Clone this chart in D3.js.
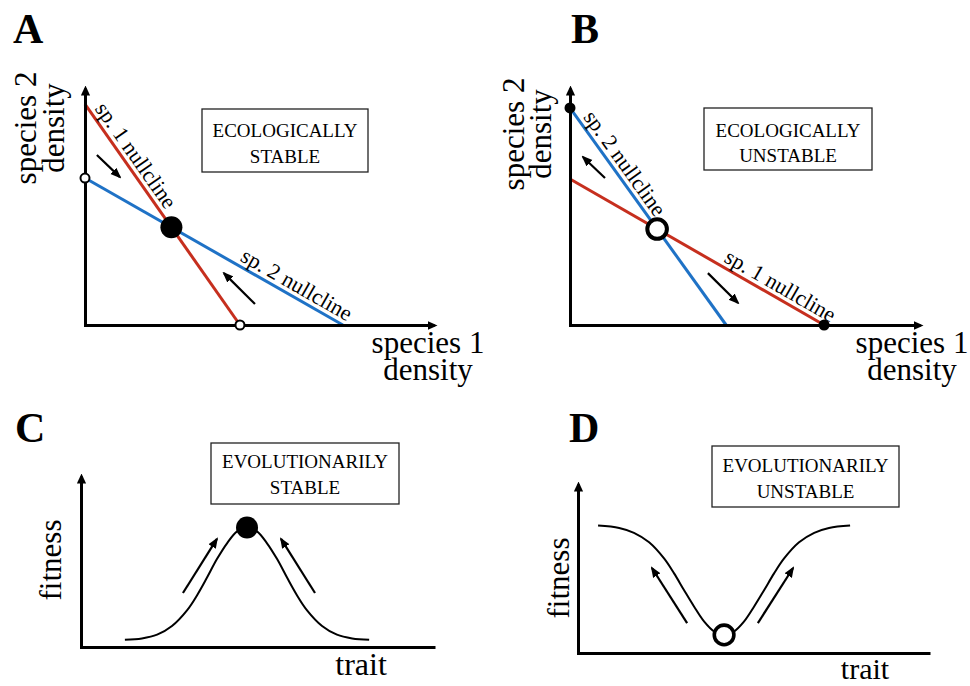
<!DOCTYPE html>
<html><head><meta charset="utf-8">
<script src="https://cdn.jsdelivr.net/npm/d3@7"></script>
<style>
body{margin:0;background:#fff;}
text{font-family:"Liberation Serif","Times New Roman",serif;fill:#000;}
</style>
</head><body>
<svg id="chart" width="970" height="686"></svg>
<script>
// ---------------- DATA ----------------
const panelLetters = ["A", "B", "C", "D"];
const boxA = ["ECOLOGICALLY", "STABLE"];
const boxB = ["ECOLOGICALLY", "UNSTABLE"];
const boxC = ["EVOLUTIONARILY", "STABLE"];
const boxD = ["EVOLUTIONARILY", "UNSTABLE"];
const densityXLabel = ["species 1", "density"];
const densityYLabel = ["species 2", "density"];
const fitnessLabel = "fitness";
const traitLabel = "trait";
const sp1Label = "sp. 1 nullcline";
const sp2Label = "sp. 2 nullcline";

// Panel A: nullclines as [x, y] endpoints (intercepts)
const sp1NullclineA = [[0, 9.32], [4.44, 0]];
const sp2NullclineA = [[0, 6.2], [7.39, 0]];
const arrowsA = [[[0.34, 7.17], [1.0, 6.24]], [[4.87, 0.89], [3.98, 2.19]]];

// Panel B
const sp2NullclineB = [[0, 9.16], [4.46, 0]];
const sp1NullclineB = [[0, 6.16], [7.26, 0]];
const arrowsB = [[[1.0, 6.2], [0.37, 7.09]], [[3.94, 2.19], [4.8, 0.93]]];

// Panel C: fitness landscape (peak)
const traitC   = [1.24, 1.72, 2.15, 2.57, 3.00, 3.28, 3.56, 3.84, 4.13, 4.41, 4.69, 4.97, 5.25, 5.54, 5.82, 6.10, 6.38, 6.81, 7.23, 7.66, 8.14];
const fitnessC = [0.42, 0.50, 0.72, 1.23, 2.16, 3.03, 4.06, 5.14, 6.08, 6.76, 6.99, 6.76, 6.08, 5.14, 4.06, 3.03, 2.16, 1.23, 0.72, 0.50, 0.42];
const peakC = [4.69, 6.99];
const arrowsC = [[[2.88, 3.16], [3.84, 6.32]], [[6.61, 3.16], [5.65, 6.32]]];

// Panel D: fitness landscape (valley)
const traitD   = [0.57, 1.17, 1.59, 2.02, 2.45, 2.73, 3.01, 3.30, 3.58, 3.87, 4.15, 4.43, 4.72, 5.00, 5.29, 5.57, 5.85, 6.28, 6.71, 7.13, 7.73];
const fitnessD = [7.54, 7.40, 7.11, 6.55, 5.58, 4.71, 3.73, 2.74, 1.87, 1.27, 1.07, 1.27, 1.87, 2.74, 3.73, 4.71, 5.58, 6.55, 7.11, 7.40, 7.54];
const valleyD = [4.15, 1.07];
const arrowsD = [[[3.10, 1.77], [2.10, 5.03]], [[5.11, 1.77], [6.11, 5.03]]];

// ---------------- DRAWING ----------------
const RED = "#c62f1e", BLUE = "#1f72c6";
const svg = d3.select("#chart");
const defs = svg.append("defs");
defs.append("marker").attr("id", "axisHead")
  .attr("viewBox", "0 -5 10 10").attr("refX", 7).attr("refY", 0)
  .attr("markerWidth", 10).attr("markerHeight", 10)
  .attr("markerUnits", "userSpaceOnUse").attr("orient", "auto")
  .append("path").attr("d", "M0,-4.6L10,0L0,4.6Z").attr("fill", "#000");
defs.append("marker").attr("id", "smallHead")
  .attr("viewBox", "0 -5 11 10").attr("refX", 9).attr("refY", 0)
  .attr("markerWidth", 11).attr("markerHeight", 10)
  .attr("markerUnits", "userSpaceOnUse").attr("orient", "auto")
  .append("path").attr("d", "M0,-4.3L11,0L0,4.3Z").attr("fill", "#000");

function axes(x, y, xArrow) {
  const [x0] = x.range(), [y0] = y.range();
  const gx = svg.append("g").attr("transform", `translate(0,${y0})`)
    .call(d3.axisBottom(x).tickValues([]).tickSizeOuter(0));
  gx.select(".domain").attr("stroke", "#000").attr("stroke-width", 3)
    .attr("marker-end", xArrow ? "url(#axisHead)" : null);
  const gy = svg.append("g").attr("transform", `translate(${x0},0)`)
    .call(d3.axisLeft(y).tickValues([]).tickSizeOuter(0));
  gy.select(".domain").attr("stroke", "#000").attr("stroke-width", 3)
    .attr("marker-end", "url(#axisHead)");
  svg.append("rect").attr("x", x0 - 1).attr("y", y0 - 1).attr("width", 3).attr("height", 3).attr("fill", "#000");
}

function letter(t, x, y) {
  svg.append("text").attr("x", x).attr("y", y).attr("font-size", 42)
    .attr("font-weight", "bold").text(t);
}

function box(lines, x0, y0, x1, y1, b1, b2) {
  svg.append("rect").attr("x", x0).attr("y", y0).attr("width", x1 - x0).attr("height", y1 - y0)
    .attr("fill", "#fff").attr("stroke", "#222").attr("stroke-width", 1.3);
  const cx = (x0 + x1) / 2;
  const t = svg.append("text").attr("text-anchor", "middle").attr("font-size", 19);
  [b1, b2].forEach((b, i) => t.append("tspan").attr("x", cx).attr("y", b).text(lines[i]));
}

function arrows(list, x, y) {
  list.forEach(a => svg.append("line")
    .attr("x1", x(a[0][0])).attr("y1", y(a[0][1]))
    .attr("x2", x(a[1][0])).attr("y2", y(a[1][1]))
    .attr("stroke", "#000").attr("stroke-width", 2.2)
    .attr("marker-end", "url(#smallHead)"));
}

function segment(seg, x, y, color) {
  svg.append("path").datum(seg)
    .attr("d", d3.line().x(d => x(d[0])).y(d => y(d[1])))
    .attr("stroke", color).attr("stroke-width", 3).attr("fill", "none");
}

function lineLabel(seg, x, y, t, text, d) {
  const p0 = [x(seg[0][0]), y(seg[0][1])], p1 = [x(seg[1][0]), y(seg[1][1])];
  const ang = Math.atan2(p1[1] - p0[1], p1[0] - p0[0]);
  const f = (t - seg[0][0]) / (seg[1][0] - seg[0][0]);
  const px = p0[0] + f * (p1[0] - p0[0]), py = p0[1] + f * (p1[1] - p0[1]);
  const nx = Math.sin(ang), ny = -Math.cos(ang);
  svg.append("text")
    .attr("transform", `translate(${px + nx * d},${py + ny * d}) rotate(${ang * 180 / Math.PI})`)
    .attr("font-size", 22).text(text);
}

function intersect(a, b) {
  // lines through intercepts: y = ya*(1 - x/xa)
  const ya = a[0][1], xa = a[1][0], yb = b[0][1], xb = b[1][0];
  const xi = (ya - yb) / (ya / xa - yb / xb);
  return [xi, ya * (1 - xi / xa)];
}

function dot(p, x, y, r, filled, sw) {
  svg.append("circle").attr("cx", x(p[0])).attr("cy", y(p[1])).attr("r", r)
    .attr("fill", filled ? "#000" : "#fff")
    .attr("stroke", "#000").attr("stroke-width", sw);
}

function yLabel(lines, bx1, gap, cy, size) {
  const t = svg.append("text").attr("transform", `translate(${bx1},${cy}) rotate(-90)`)
    .attr("text-anchor", "middle").attr("font-size", size);
  lines.forEach((l, i) => t.append("tspan").attr("x", 0).attr("y", i * gap).text(l));
}
function xLabel(lines, cx, b1, gap) {
  const t = svg.append("text").attr("text-anchor", "middle").attr("font-size", 31);
  lines.forEach((l, i) => t.append("tspan").attr("x", cx).attr("y", b1 + i * gap).text(l));
}

// ----- Panel A -----
{
  const x = d3.scaleLinear().domain([0, 10]).range([85, 434]);
  const y = d3.scaleLinear().domain([0, 10]).range([325, 88]);
  letter(panelLetters[0], 13, 43);
  segment(sp1NullclineA, x, y, RED);
  segment(sp2NullclineA, x, y, BLUE);
  axes(x, y, true);
  lineLabel(sp1NullclineA, x, y, 0.15, sp1Label, 5);
  lineLabel(sp2NullclineA, x, y, 4.35, sp2Label, 5);
  arrows(arrowsA, x, y);
  dot(intersect(sp1NullclineA, sp2NullclineA), x, y, 11, true, 0);
  dot(sp2NullclineA[0], x, y, 4.5, false, 2);
  dot(sp1NullclineA[1], x, y, 4.5, false, 2);
  box(boxA, 202, 109, 368, 172, 137, 163);
  yLabel(densityYLabel, 36, 28, 128, 31);
  xLabel(densityXLabel, 428, 353, 27);
}
// ----- Panel B -----
{
  const x = d3.scaleLinear().domain([0, 10]).range([570, 920]);
  const y = d3.scaleLinear().domain([0, 10]).range([325, 88]);
  letter(panelLetters[1], 571, 43);
  segment(sp2NullclineB, x, y, BLUE);
  segment(sp1NullclineB, x, y, RED);
  axes(x, y, true);
  lineLabel(sp2NullclineB, x, y, 0.25, sp2Label, 5);
  lineLabel(sp1NullclineB, x, y, 4.3, sp1Label, 5);
  arrows(arrowsB, x, y);
  dot(intersect(sp2NullclineB, sp1NullclineB), x, y, 9.8, false, 4);
  dot(sp2NullclineB[0], x, y, 5.5, true, 0);
  dot(sp1NullclineB[1], x, y, 5.5, true, 0);
  box(boxB, 704, 108, 872, 170, 137, 162);
  yLabel(densityYLabel, 524, 27, 134, 31);
  xLabel(densityXLabel, 912, 353, 27);
}
// ----- Panel C -----
{
  const x = d3.scaleLinear().domain([0, 10]).range([81, 435]);
  const y = d3.scaleLinear().domain([0, 10]).range([647, 476]);
  letter(panelLetters[2], 15, 442);
  axes(x, y, false);
  svg.append("path").datum(d3.zip(traitC, fitnessC))
    .attr("d", d3.line().x(d => x(d[0])).y(d => y(d[1])).curve(d3.curveCatmullRom))
    .attr("fill", "none").attr("stroke", "#000").attr("stroke-width", 2);
  arrows(arrowsC, x, y);
  dot(peakC, x, y, 11, true, 0);
  box(boxC, 211, 443, 399, 504, 468, 494);
  yLabel([fitnessLabel], 61, 0, 560, 31);
  svg.append("text").attr("x", 361).attr("y", 675).attr("text-anchor", "middle")
    .attr("font-size", 32).text(traitLabel);
}
// ----- Panel D -----
{
  const x = d3.scaleLinear().domain([0, 10]).range([578, 930]);
  const y = d3.scaleLinear().domain([0, 10]).range([653, 484]);
  letter(panelLetters[3], 569, 442);
  axes(x, y, false);
  svg.append("path").datum(d3.zip(traitD, fitnessD))
    .attr("d", d3.line().x(d => x(d[0])).y(d => y(d[1])).curve(d3.curveCatmullRom))
    .attr("fill", "none").attr("stroke", "#000").attr("stroke-width", 2);
  arrows(arrowsD, x, y);
  dot(valleyD, x, y, 9.8, false, 3.6);
  box(boxD, 712, 446, 899, 507, 472, 498);
  yLabel([fitnessLabel], 569, 0, 578, 31);
  svg.append("text").attr("x", 865).attr("y", 679).attr("text-anchor", "middle")
    .attr("font-size", 30).text(traitLabel);
}
</script>
</body></html>
